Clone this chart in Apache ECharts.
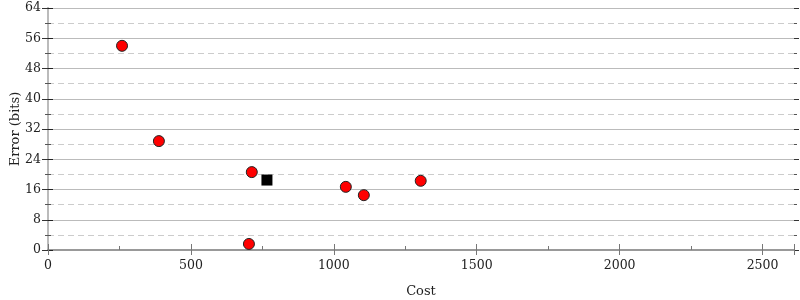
<!DOCTYPE html>
<html><head><meta charset="utf-8">
<script src="https://cdn.jsdelivr.net/npm/echarts@6/dist/echarts.min.js"></script>
<style>html,body{margin:0;padding:0;background:#fff}#c{width:800px;height:300px}</style>
</head><body><div id="c"></div>
<script>
const costs = [259, 388, 713, 703, 1042, 1105, 1304];
const errors = [54.0, 28.8, 20.6, 1.6, 16.7, 14.5, 18.3];
const bestCost = [766];
const bestError = [18.5];
const xTicks = [0, 500, 1000, 1500, 2000, 2500];
const yTicks = [0, 8, 16, 24, 32, 40, 48, 56, 64];

const FONT = 'DejaVu Serif';
const XMAX = 2610;
const chart = echarts.init(document.getElementById('c'), null, {renderer: 'canvas'});
const baseX = {type: 'value', min: 0, max: XMAX, interval: 500, splitLine: {show: false}, minorSplitLine: {show: false}};
const baseY = {type: 'value', min: 0, max: 64, interval: 8};
chart.setOption({
  animation: false,
  grid: {left: 48, right: 6, top: 8, bottom: 50, containLabel: false, outerBoundsMode: 'none'},
  xAxis: [
    Object.assign({}, baseX, {position: 'bottom', name: 'Cost', nameLocation: 'middle', nameGap: 35,
      nameMoveOverlap: false,
      nameTextStyle: {fontFamily: FONT, fontSize: 13, color: '#222'},
      axisLine: {lineStyle: {color: '#999', width: 2}},
      axisTick: {inside: false, length: 5, lineStyle: {color: '#777', width: 1}},
      minorTick: {show: false},
      axisLabel: {fontFamily: FONT, fontSize: 12.5, color: '#222', margin: 9,
        formatter: v => xTicks.includes(v) ? String(v) : ''}}),
    Object.assign({}, baseX, {position: 'bottom',
      axisLine: {show: false},
      axisTick: {inside: true, length: 6, lineStyle: {color: '#777', width: 1}},
      minorTick: {show: true, splitNumber: 2, length: 4, lineStyle: {color: '#777'}},
      axisLabel: {show: false}}),
    Object.assign({}, baseX, {position: 'top',
      axisLine: {lineStyle: {color: '#999', width: 2}},
      axisTick: {show: false}, axisLabel: {show: false}})
  ],
  yAxis: [
    Object.assign({}, baseY, {position: 'left', name: 'Error (bits)', nameLocation: 'middle', nameGap: 26,
      nameMoveOverlap: false,
      nameTextStyle: {fontFamily: FONT, fontSize: 13, color: '#222'},
      axisLine: {show: true, lineStyle: {color: '#bbb', width: 2}},
      axisTick: {show: true, inside: false, length: 5, lineStyle: {color: '#222'}},
      minorTick: {show: true, splitNumber: 2, length: 3, lineStyle: {color: '#555'}},
      splitLine: {show: true, lineStyle: {color: '#bbb', width: 1}},
      minorSplitLine: {show: true, lineStyle: {color: '#ccc', type: [6, 4], width: 1}},
      axisLabel: {fontFamily: FONT, fontSize: 12.5, color: '#222', margin: 7,
        formatter: v => yTicks.includes(v) ? String(v) : ''}}),
    Object.assign({}, baseY, {position: 'left',
      axisLine: {show: false},
      axisTick: {show: true, inside: true, length: 5, lineStyle: {color: '#222'}},
      minorTick: {show: true, splitNumber: 2, length: 3, lineStyle: {color: '#555'}},
      splitLine: {show: false}, axisLabel: {show: false}}),
    Object.assign({}, baseY, {position: 'right',
      axisLine: {show: true, lineStyle: {color: '#bbb', width: 2}},
      axisTick: {show: true, inside: true, length: 6, lineStyle: {color: '#333'}},
      minorTick: {show: true, splitNumber: 2, length: 3, lineStyle: {color: '#555'}},
      splitLine: {show: false}, axisLabel: {show: false}}),
    Object.assign({}, baseY, {position: 'right', offset: 0,
      axisLine: {show: false},
      axisTick: {show: true, inside: false, length: 5, lineStyle: {color: '#333'}},
      minorTick: {show: true, splitNumber: 2, length: 3, lineStyle: {color: '#555'}},
      splitLine: {show: false}, axisLabel: {show: false}})
  ],
  series: [
    {type: 'scatter', xAxisIndex: 0, yAxisIndex: 0, symbol: 'circle', symbolSize: 11,
      itemStyle: {color: '#ff0000', borderColor: '#222', borderWidth: 1, opacity: 1},
      data: costs.map((c, i) => [c, errors[i]])},
    {type: 'scatter', xAxisIndex: 0, yAxisIndex: 0, symbol: 'rect', symbolSize: 11,
      itemStyle: {color: '#000', opacity: 1},
      data: bestCost.map((c, i) => [c, bestError[i]])}
  ]
});
</script></body></html>
